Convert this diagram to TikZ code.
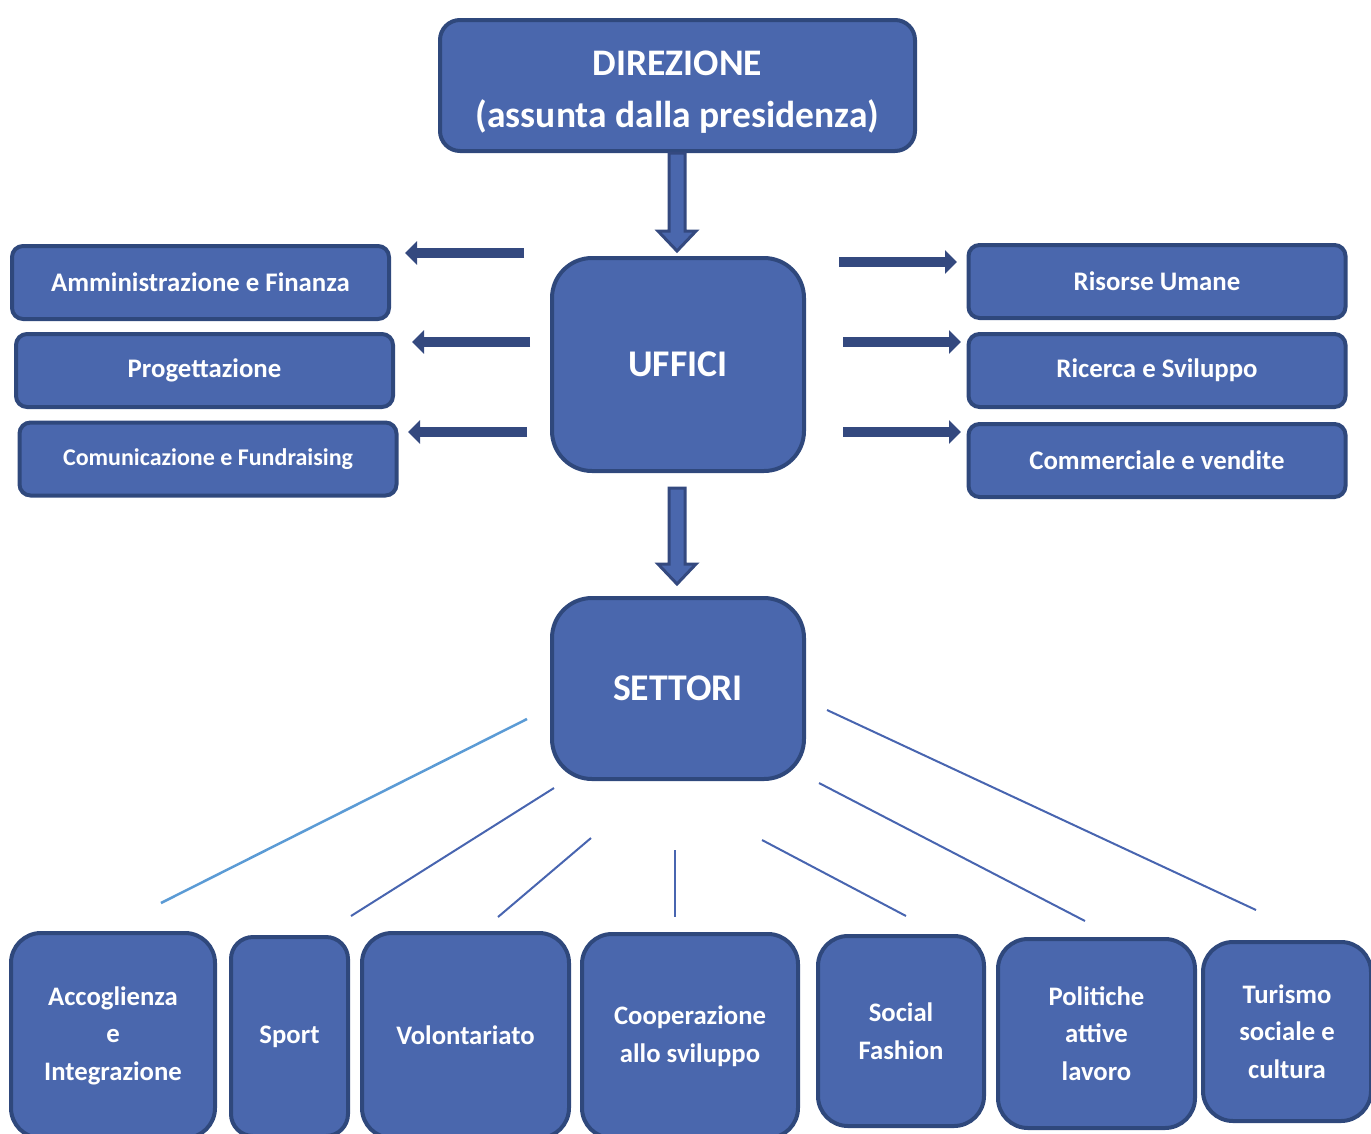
\documentclass[tikz,border=0pt]{standalone}
\usepackage{fontspec}
\setmainfont{Carlito}
\usetikzlibrary{arrows.meta,calc}
\definecolor{boxc}{RGB}{74,103,173}
\definecolor{bordc}{RGB}{47,72,124}
\definecolor{arrc}{RGB}{52,73,127}
\definecolor{lightl}{RGB}{91,155,213}
\definecolor{linec}{RGB}{72,101,176}
\tikzset{
  box/.style={draw=bordc, fill=boxc, line width=4pt, text=white, align=center, inner sep=0pt, font=\bfseries},
  sidebox/.style={box, rounded corners=11pt, minimum width=377pt, minimum height=73pt, font=\fontsize{26.8}{30}\selectfont\bfseries},
  botbox/.style={box, rounded corners=30pt, font=\fontsize{26.7}{37.5}\selectfont\bfseries},
  sidearr/.style={draw=arrc, line width=10pt, -{Triangle[length=12pt,width=23pt]}},
  blockarr/.style={draw=arrc, fill=boxc, line width=3pt, line join=miter},
  conn/.style={draw=linec, line width=2pt},
}
\begin{document}
\begin{tikzpicture}[x=1pt,y=-1pt]
\useasboundingbox (0,0) rectangle (1371,1133);
% main boxes
\node[box, rounded corners=20pt, minimum width=475pt, minimum height=131pt, font=\fontsize{37.5}{52}\selectfont\bfseries] (dir) at (677.5,85.5) {\raisebox{-6pt}[\height][\depth]{\begin{tabular}{@{}c@{}}DIREZIONE\\(assunta dalla presidenza)\end{tabular}}};
\node[box, rounded corners=40pt, minimum width=252pt, minimum height=213pt, font=\fontsize{37.7}{40}\selectfont\bfseries] (uff) at (678,364.5) {UFFICI};
\node[box, rounded corners=40pt, minimum width=252pt, minimum height=181pt, font=\fontsize{37.7}{40}\selectfont\bfseries] (set) at (678,688.5) {SETTORI};
% side boxes
\node[sidebox] (amm) at (200.5,282.5) {Amministrazione e Finanza};
\node[sidebox] (pro) at (204.5,370.5) {Progettazione};
\node[sidebox, font=\fontsize{24}{28}\selectfont\bfseries] (com) at (208,459) {Comunicazione e Fundraising};
\node[sidebox] (ris) at (1157,281.5) {Risorse Umane};
\node[sidebox] (ric) at (1157,370.5) {Ricerca e Sviluppo};
\node[sidebox] (cvn) at (1157,460.5) {Commerciale e vendite};
% bottom boxes
\node[botbox, minimum width=204pt, minimum height=205pt] (acc) at (113,1035.5) {Accoglienza\\e\\Integrazione};
\node[botbox, rounded corners=22pt, minimum width=117pt, minimum height=199pt] (spo) at (289.5,1036.5) {Sport};
\node[botbox, minimum width=207pt, minimum height=205pt] (vol) at (465.5,1035.5) {Volontariato};
\node[botbox, minimum width=216pt, minimum height=204pt] (coo) at (690,1036) {Cooperazione\\allo sviluppo};
\node[botbox, minimum width=166pt, minimum height=190pt] (soc) at (901,1031) {Social\\Fashion};
\node[botbox, minimum width=197pt, minimum height=189pt] (pol) at (1096.5,1033.5) {Politiche\\attive\\lavoro};
\node[botbox, minimum width=168pt, minimum height=179pt] (tur) at (1287,1031.5) {Turismo\\sociale e\\cultura};
% vertical block arrows
\coordinate (a1s) at (677,153);
\coordinate (a1t) at (677,251);
\draw[blockarr] ($(a1s)+(-8,0)$) -- ($(a1t)+(-8,-20)$) -- ($(a1t)+(-19,-20)$) -- (a1t) -- ($(a1t)+(19,-20)$) -- ($(a1t)+(8,-20)$) -- ($(a1s)+(8,0)$) -- cycle;
\coordinate (a2s) at (677,488);
\coordinate (a2t) at (677,584);
\draw[blockarr] ($(a2s)+(-8,0)$) -- ($(a2t)+(-8,-20)$) -- ($(a2t)+(-19,-20)$) -- (a2t) -- ($(a2t)+(19,-20)$) -- ($(a2t)+(8,-20)$) -- ($(a2s)+(8,0)$) -- cycle;
% side arrows
\coordinate (l1s) at (524,253); \coordinate (l1e) at (405,253);
\coordinate (l2s) at (530,342); \coordinate (l2e) at (412,342);
\coordinate (l3s) at (527,432); \coordinate (l3e) at (408,432);
\coordinate (r1s) at (839,262); \coordinate (r1e) at (957,262);
\coordinate (r2s) at (843,342); \coordinate (r2e) at (961,342);
\coordinate (r3s) at (843,432); \coordinate (r3e) at (961,432);
\draw[sidearr] (l1s) -- (l1e);
\draw[sidearr] (l2s) -- (l2e);
\draw[sidearr] (l3s) -- (l3e);
\draw[sidearr] (r1s) -- (r1e);
\draw[sidearr] (r2s) -- (r2e);
\draw[sidearr] (r3s) -- (r3e);
% connector lines
\coordinate (c1s) at (527,719); \coordinate (c1e) at (161,903);
\coordinate (c2s) at (554,788); \coordinate (c2e) at (351,916);
\coordinate (c3s) at (591,838); \coordinate (c3e) at (498,917);
\coordinate (c4s) at (675,850); \coordinate (c4e) at (675,917);
\coordinate (c5s) at (762,840); \coordinate (c5e) at (906,916);
\coordinate (c6s) at (819,783); \coordinate (c6e) at (1085,921);
\coordinate (c7s) at (827,710); \coordinate (c7e) at (1256,910);
\draw[conn, draw=lightl, line width=2.5pt] (c1s) -- (c1e);
\draw[conn] (c2s) -- (c2e);
\draw[conn] (c3s) -- (c3e);
\draw[conn] (c4s) -- (c4e);
\draw[conn] (c5s) -- (c5e);
\draw[conn] (c6s) -- (c6e);
\draw[conn] (c7s) -- (c7e);
\end{tikzpicture}
\end{document}
